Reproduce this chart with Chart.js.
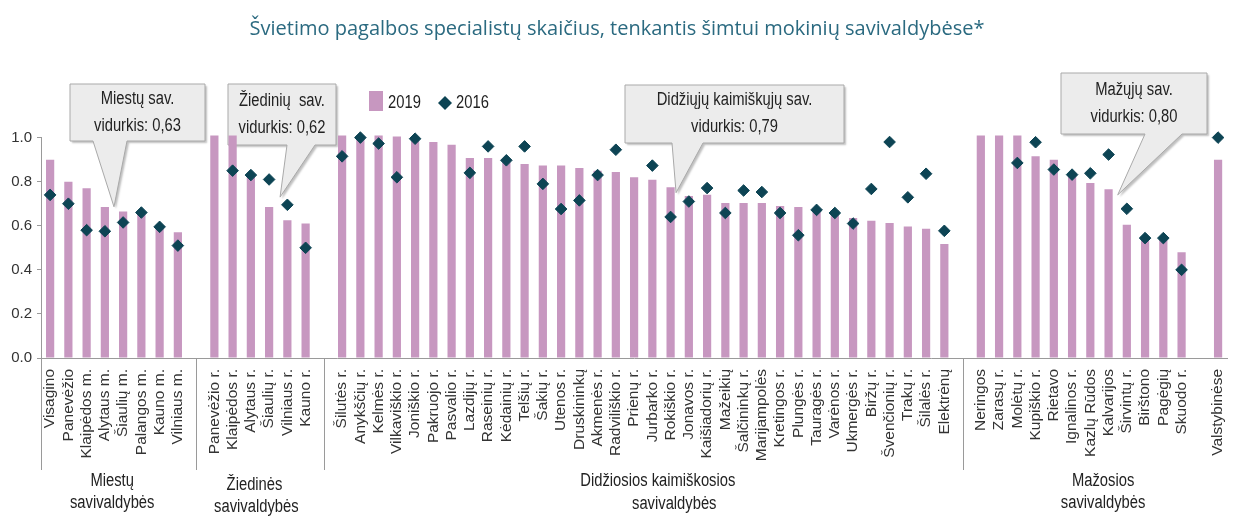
<!DOCTYPE html>
<html>
<head>
<meta charset="utf-8">
<script src="https://cdn.jsdelivr.net/npm/chart.js@4.4.1/dist/chart.umd.min.js"></script>
<style>
  html, body { margin: 0; padding: 0; background: #fff; }
  #wrap { width: 1234px; height: 518px; }
</style>
</head>
<body>
<div id="wrap"><canvas id="chart" width="1234" height="518"></canvas></div>
<script>
// kategorijos (tuščios vietos tarp grupių)
const labels = [
    'Visagino', 'Panevėžio', 'Klaipėdos m.', 'Alytaus m.', 'Šiaulių m.', 'Palangos m.', 'Kauno m.', 'Vilniaus m.',
    '',
    'Panevėžio r.', 'Klaipėdos r.', 'Alytaus r.', 'Šiaulių r.', 'Vilniaus r.', 'Kauno r.',
    '',
    'Šilutės r.', 'Anykščių r.', 'Kelmės r.', 'Vilkaviškio r.', 'Joniškio r.', 'Pakruojo r.', 'Pasvalio r.',
    'Lazdijų r.', 'Raseinių r.', 'Kėdainių r.', 'Telšių r.', 'Šakių r.', 'Utenos r.', 'Druskininkų',
    'Akmenės r.', 'Radviliškio r.', 'Prienų r.', 'Jurbarko r.', 'Rokiškio r.', 'Jonavos r.', 'Kaišiadorių r.',
    'Mažeikių', 'Šalčininkų r.', 'Marijampolės', 'Kretingos r.', 'Plungės r.', 'Tauragės r.', 'Varėnos r.',
    'Ukmergės r.', 'Biržų r.', 'Švenčionių r.', 'Trakų r.', 'Šilalės r.', 'Elektrėnų',
    '',
    'Neringos', 'Zarasų r.', 'Molėtų r.', 'Kupiškio r.', 'Rietavo', 'Ignalinos r.', 'Kazlų Rūdos',
    'Kalvarijos', 'Širvintų r.', 'Birštono', 'Pagėgių', 'Skuodo r.',
    '',
    'Valstybinėse'
];

const values2019 = [
    0.90, 0.80, 0.77, 0.685, 0.665, 0.66, 0.60, 0.57,
    null,
    1.01, 1.01, 0.83, 0.685, 0.625, 0.61,
    null,
    1.01, 1.01, 1.01, 1.005, 0.99, 0.98, 0.968,
    0.908, 0.908, 0.89, 0.88, 0.873, 0.873, 0.862,
    0.85, 0.844, 0.82, 0.809, 0.775, 0.735, 0.741,
    0.703, 0.703, 0.703, 0.69, 0.685, 0.68, 0.67,
    0.635, 0.623, 0.612, 0.597, 0.586, 0.517,
    null,
    1.01, 1.01, 1.01, 0.915, 0.90, 0.84, 0.794,
    0.766, 0.605, 0.55, 0.55, 0.48,
    null,
    0.90
];

const values2016 = [
    0.74, 0.70, 0.58, 0.575, 0.615, 0.66, 0.595, 0.51,
    null,
    null, 0.85, 0.83, 0.81, 0.695, 0.50,
    null,
    0.915, 1.0, 0.973, 0.82, 0.995, null, null,
    0.84, 0.96, 0.897, 0.96, 0.79, 0.676, 0.715,
    0.83, 0.945, null, 0.873, 0.64, 0.71, 0.771,
    0.658, 0.76, 0.753, 0.658, 0.557, 0.672, 0.658,
    0.61, 0.767, 0.98, 0.729, 0.836, 0.577,
    null,
    null, null, 0.885, 0.979, 0.855, 0.832, 0.838,
    0.923, 0.677, 0.544, 0.544, 0.40,
    null,
    1.0
];

const yTicks = [0, 0.2, 0.4, 0.6, 0.8, 1.0];

// grupių ribos (kategorijų indeksai) ir pavadinimai
const separators = [-0.5, 8, 15, 50];
const groups = [
    { lines: ['Miestų', 'savivaldybės'], at: [3.4, 3.4], y: [481, 503] },
    { lines: ['Žiedinės', 'savivaldybės'], at: [11.2, 11.3], y: [485, 507] },
    { lines: ['Didžiosios kaimiškosios', 'savivaldybės'], at: [33.3, 34.2], y: [481, 504] },
    { lines: ['Mažosios', 'savivaldybės'], at: [57.7, 57.7], y: [481, 503] }
];

const callouts = [
    { lines: ['Miestų sav.', 'vidurkis: 0,63'], x: 70, y: 84, w: 135, h: 57, baseL: 93, baseR: 127, tipAt: 3.5, tipVal: 0.686 },
    { lines: ['Žiedinių  sav.', 'vidurkis: 0,62'], x: 228, y: 84, w: 108, h: 61, baseL: 287, baseR: 315, tipAt: 12.6, tipVal: 0.73 },
    { lines: ['Didžiųjų kaimiškųjų sav.', 'vidurkis: 0,79'], x: 625, y: 85, w: 219, h: 58, baseL: 672, baseR: 703, tipAt: 34.3, tipVal: 0.75 },
    { lines: ['Mažųjų sav.', 'vidurkis: 0,80'], x: 1061, y: 73, w: 146, h: 61, baseL: 1145, baseR: 1182, tipAt: 58.5, tipVal: 0.74 }
];

const barColor = '#c797c0';
const dotColor = '#0d4454';
const sans = "'Liberation Sans', Arial, sans-serif";

Chart.defaults.font.family = sans;

// siauresnis šriftas: tekstas suspaudžiamas horizontaliai
function narrowText(ctx, text, x, y, align) {
    ctx.save();
    ctx.translate(x, y);
    ctx.scale(0.82, 1);
    ctx.textAlign = align || 'center';
    ctx.fillText(text, 0, 0);
    ctx.restore();
}

const extras = {
    id: 'extras',
    beforeDatasetsDraw(chart) {
        const ctx = chart.ctx;
        const x = chart.scales.x, y = chart.scales.y;
        callouts.forEach(c => {
            const tx = x.getPixelForValue(c.tipAt);
            const ty = y.getPixelForValue(c.tipVal);
            ctx.save();
            ctx.beginPath();
            ctx.moveTo(c.x, c.y);
            ctx.lineTo(c.x + c.w, c.y);
            ctx.lineTo(c.x + c.w, c.y + c.h);
            ctx.lineTo(c.baseR, c.y + c.h);
            ctx.lineTo(tx, ty);
            ctx.lineTo(c.baseL, c.y + c.h);
            ctx.lineTo(c.x, c.y + c.h);
            ctx.closePath();
            ctx.shadowColor = 'rgba(0,0,0,0.25)';
            ctx.shadowOffsetX = 2;
            ctx.shadowOffsetY = 2;
            ctx.shadowBlur = 2;
            ctx.fillStyle = '#ececec';
            ctx.fill();
            ctx.shadowColor = 'transparent';
            ctx.strokeStyle = '#a9a9a9';
            ctx.lineWidth = 1;
            ctx.stroke();
            ctx.fillStyle = '#222';
            ctx.font = '18px ' + sans;
            ctx.textBaseline = 'middle';
            const cx = c.x + c.w / 2, cy = c.y + c.h / 2;
            narrowText(ctx, c.lines[0], cx, cy - 13.5);
            narrowText(ctx, c.lines[1], cx, cy + 13.5);
            ctx.restore();
        });
    },
    afterDraw(chart) {
        const ctx = chart.ctx;
        const x = chart.scales.x;
        const bottom = chart.chartArea.bottom;
        ctx.save();
        // grupių skirtukai
        ctx.strokeStyle = '#9a9a9a';
        ctx.lineWidth = 1;
        separators.forEach(s => {
            const px = Math.round(x.getPixelForValue(s)) + 0.5;
            ctx.beginPath();
            ctx.moveTo(px, bottom);
            ctx.lineTo(px, bottom + 112);
            ctx.stroke();
        });
        // grupių pavadinimai
        ctx.fillStyle = '#222';
        ctx.font = '18px ' + sans;
        ctx.textBaseline = 'middle';
        groups.forEach(g => {
            g.lines.forEach((t, i) => narrowText(ctx, t, x.getPixelForValue(g.at[i]), g.y[i]));
        });
        // legenda
        ctx.fillStyle = barColor;
        ctx.fillRect(369, 91, 14, 20);
        ctx.fillStyle = dotColor;
        ctx.beginPath();
        ctx.moveTo(445, 96);
        ctx.lineTo(452, 103);
        ctx.lineTo(445, 110);
        ctx.lineTo(438, 103);
        ctx.closePath();
        ctx.fill();
        ctx.fillStyle = '#222';
        narrowText(ctx, '2019', 388, 103, 'left');
        narrowText(ctx, '2016', 456, 103, 'left');
        ctx.restore();
    }
};

new Chart(document.getElementById('chart'), {
    type: 'bar',
    data: {
        labels: labels,
        datasets: [
            {
                type: 'line',
                label: '2016',
                data: values2016,
                showLine: false,
                pointStyle: 'rectRot',
                pointRadius: 5.8,
                pointBackgroundColor: dotColor,
                pointBorderColor: dotColor,
                pointBorderWidth: 1,
                clip: false,
                order: 0
            },
            {
                label: '2019',
                data: values2019,
                backgroundColor: barColor,
                barPercentage: 0.45,
                categoryPercentage: 1,
                clip: false,
                order: 1
            }
        ]
    },
    options: {
        responsive: false,
        animation: false,
        layout: { padding: 0 },
        plugins: {
            legend: { display: false },
            tooltip: { enabled: false },
            title: {
                display: true,
                text: 'Švietimo pagalbos specialistų skaičius, tenkantis šimtui mokinių savivaldybėse*',
                color: '#2b6a80',
                font: { family: "'Open Sans', sans-serif", size: 20, weight: 'normal' },
                padding: { top: 17, bottom: 96.6 }
            }
        },
        scales: {
            x: {
                grid: { display: false },
                border: { display: true, color: '#9a9a9a' },
                ticks: {
                    autoSkip: false,
                    minRotation: 90,
                    maxRotation: 90,
                    padding: 3,
                    color: '#333',
                    font: { size: 15.5 }
                },
                afterFit(scale) {
                    scale.height = 160;
                    scale.paddingLeft = 0;
                    scale.paddingRight = 0;
                }
            },
            y: {
                min: 0,
                max: 1,
                afterBuildTicks(scale) {
                    scale.ticks = yTicks.map(v => ({ value: v }));
                },
                grid: { drawOnChartArea: false, drawTicks: true, tickLength: 4, color: '#9a9a9a' },
                border: { display: true, color: '#9a9a9a' },
                ticks: {
                    color: '#333',
                    padding: 5,
                    font: { size: 15 },
                    callback: v => v.toFixed(1)
                },
                afterFit(scale) {
                    scale.width = 41;
                }
            }
        }
    },
    plugins: [extras]
});
</script>
</body>
</html>
